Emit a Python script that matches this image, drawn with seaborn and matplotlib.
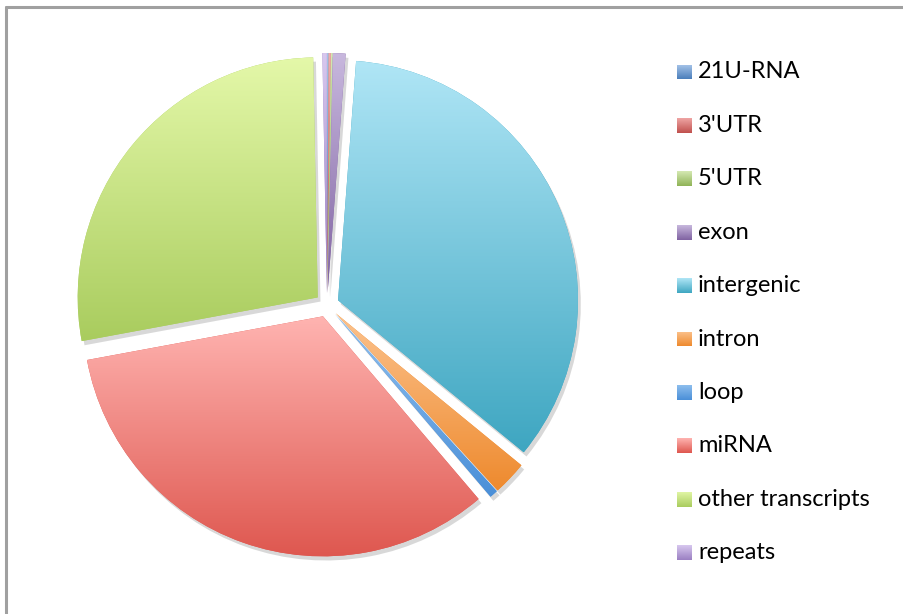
import numpy as np
import matplotlib
matplotlib.use("Agg")
import matplotlib.pyplot as plt
import seaborn as sns
from matplotlib.colors import LinearSegmentedColormap
from matplotlib.lines import Line2D
import matplotlib.patheffects as pe

# ---- data (percent of reads) ----
categories = ["21U-RNA", "3'UTR", "5'UTR", "exon", "intergenic", "intron",
              "loop", "miRNA", "other transcripts", "repeats"]
shares = [0.1, 0.15, 0.1, 0.85, 34.7, 2.3, 0.55, 33.3, 27.6, 0.3]

# gradient colours, light (top) -> dark (bottom), Excel style
top_colors = ["#a9c6ea", "#f2abaa", "#d5e9b3", "#c8b8de", "#b0e6f6", "#fcc38e",
              "#92c1ef", "#ffb4b1", "#e4f8a9", "#d8c8ef"]
bottom_colors = ["#4a7ebb", "#c0504d", "#8fb356", "#7f62a1", "#3ea6c1", "#ee8a2e",
                 "#4a8fd8", "#de564e", "#a9cc5e", "#9a7fc2"]

sns.set_theme(style="white")
plt.rcParams['font.family'] = ['Lato', 'DejaVu Sans']

W, H = 904, 614
fig = plt.figure(figsize=(W / 100, H / 100), dpi=100)

# pie axes: centre ~ (327, 305) px, radius ~240 px
cx, cy, R, half = 327, H - 305, 240, 262
ax = fig.add_axes([(cx - half) / W, (cy - half) / H, 2 * half / W, 2 * half / H])

wedges, _ = ax.pie(shares, startangle=90, counterclock=False,
                   explode=[0.05] * len(shares), colors=bottom_colors,
                   wedgeprops=dict(linewidth=0))

grad = np.linspace(0, 1, 256).reshape(-1, 1)
for w, c0, c1 in zip(wedges, top_colors, bottom_colors):
    w.set_path_effects([pe.SimplePatchShadow(offset=(2, -3), shadow_rgbFace="#808080",
                                             alpha=0.3), pe.Normal()])
    verts = w.get_patch_transform().transform(w.get_path().vertices)
    x0, x1 = verts[:, 0].min(), verts[:, 0].max()
    y0, y1 = verts[:, 1].min(), verts[:, 1].max()
    cmap = LinearSegmentedColormap.from_list("g", [c0, c1])
    im = ax.imshow(grad, cmap=cmap, extent=[x0, x1, y0, y1], origin="upper",
                   aspect="auto", interpolation="bilinear", zorder=2)
    im.set_clip_path(w)

lim = half / R
ax.set_xlim(-lim, lim)
ax.set_ylim(-lim, lim)
ax.axis("off")

# legend, drawn as in the Excel chart
for i, (lab, c0, c1) in enumerate(zip(categories, top_colors, bottom_colors)):
    yc = H - (72 + i * 53.4)
    sq = fig.add_axes([677 / W, (yc - 7.5) / H, 15 / W, 15 / H])
    sq.imshow(grad, cmap=LinearSegmentedColormap.from_list("l", [c0, c1]),
              aspect="auto", extent=[0, 1, 0, 1], origin="upper")
    sq.axis("off")
    fig.text(698 / W, yc / H, lab, fontsize=17, va="center", ha="left", color="#000000")

# chart-area border (top and left visible)
fig.add_artist(Line2D([6.5 / W, 1], [1 - 6.5 / H, 1 - 6.5 / H], color="#a0a0a0", lw=2.2))
fig.add_artist(Line2D([6.5 / W, 6.5 / W], [0, 1 - 6.5 / H], color="#a0a0a0", lw=2.2))

fig.savefig("out.png", dpi=100, facecolor="white")
